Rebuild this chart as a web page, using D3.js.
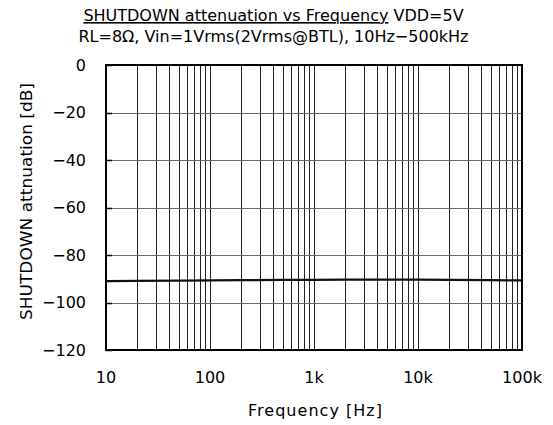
<!DOCTYPE html>
<html><head><meta charset="utf-8">
<script src="https://cdn.jsdelivr.net/npm/d3@7"></script>
<style>body{margin:0;background:#fff}svg{display:block}text{font-family:"DejaVu Sans",sans-serif;fill:#000}</style>
</head><body><svg id="c" width="553" height="425"></svg>
<script>
const freqs = [10, 20, 50, 100, 200, 500, 1000, 2000, 5000, 10000, 20000, 50000, 100000];
const attenuation = [-91, -90.9, -90.8, -90.7, -90.6, -90.5, -90.5, -90.4, -90.4, -90.4, -90.5, -90.6, -90.7];
const xTickValues = [10, 100, 1000, 10000, 100000];
const xTickLabels = ["10", "100", "1k", "10k", "100k"];
const yTickValues = [0, -20, -40, -60, -80, -100, -120];
const yTickLabels = ["0", "\u221220", "\u221240", "\u221260", "\u221280", "\u2212100", "\u2212120"];

const svg = d3.select("#c");
const L = 106, R = 522, T = 65, B = 350;
const x = d3.scaleLog().domain([10, 100000]).range([L, R]);
const y = d3.scaleLinear().domain([-120, 0]).range([B, T]);

// minor grid
const minor = [];
for (let d = 10; d < 100000; d *= 10) for (let k = 2; k <= 9; k++) minor.push(d * k);
svg.append("g").selectAll("line").data(minor.concat(xTickValues)).join("line")
  .attr("x1", d => Math.round(x(d)) + 0.5).attr("x2", d => Math.round(x(d)) + 0.5)
  .attr("y1", T).attr("y2", B).attr("stroke", "#222").attr("stroke-width", 1);
svg.append("g").selectAll("line").data(yTickValues).join("line")
  .attr("x1", L).attr("x2", R)
  .attr("y1", d => Math.round(y(d)) + 0.5).attr("y2", d => Math.round(y(d)) + 0.5)
  .attr("stroke", "#666").attr("stroke-width", 1);
// inner ticks
svg.append("g").selectAll("line").data(yTickValues).join("line")
  .attr("x1", L).attr("x2", L + 6)
  .attr("y1", d => Math.round(y(d)) + 0.5).attr("y2", d => Math.round(y(d)) + 0.5)
  .attr("stroke", "#000").attr("stroke-width", 1.5);
// frame
svg.append("rect").attr("x", L).attr("y", T).attr("width", R - L).attr("height", B - T)
  .attr("fill", "none").attr("stroke", "#000").attr("stroke-width", 2);

// data line
svg.append("path").datum(freqs.map((f, i) => [f, attenuation[i]]))
  .attr("fill", "none").attr("stroke", "#111").attr("stroke-width", 2.2)
  .attr("d", d3.line().x(d => x(d[0])).y(d => y(d[1])));

// axes labels
svg.append("g").selectAll("text").data(xTickValues).join("text")
  .attr("x", d => x(d)).attr("y", 383).attr("text-anchor", "middle")
  .attr("font-size", 16).text((d, i) => xTickLabels[i]);
svg.append("g").selectAll("text").data(yTickValues).join("text")
  .attr("x", 86).attr("y", d => y(d) + 5.8).attr("text-anchor", "end")
  .attr("font-size", 16).text((d, i) => yTickLabels[i]);

svg.append("text").attr("x", 248).attr("y", 416)
  .attr("textLength", 134).attr("lengthAdjust", "spacing")
  .attr("font-size", 16).text("Frequency [Hz]");
svg.append("text").attr("transform", "translate(32,320) rotate(-90)")
  .attr("textLength", 237).attr("lengthAdjust", "spacingAndGlyphs")
  .attr("font-size", 16).text("SHUTDOWN attnuation [dB]");

const t1 = svg.append("text").attr("x", 273.5).attr("y", 21).attr("text-anchor", "middle").attr("font-size", 16);
t1.append("tspan").attr("text-decoration", "underline").text("SHUTDOWN attenuation vs Frequency");
t1.append("tspan").text(" VDD=5V");
svg.append("text").attr("x", 273.5).attr("y", 41.5).attr("text-anchor", "middle").attr("font-size", 16)
  .text("RL=8\u03A9, Vin=1Vrms(2Vrms@BTL), 10Hz\u2212500kHz");
</script></body></html>
